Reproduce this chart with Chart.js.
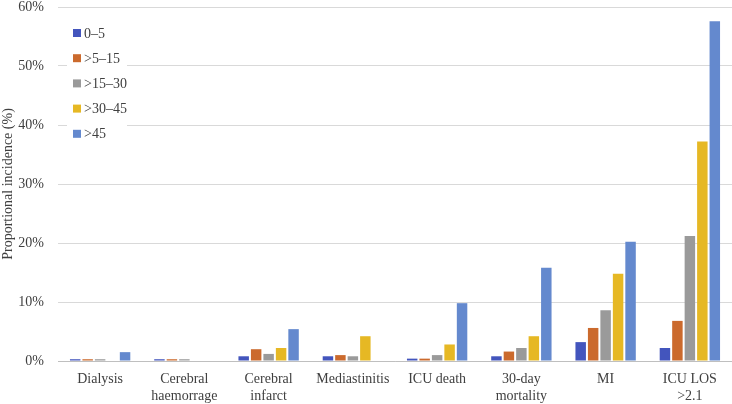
<!DOCTYPE html>
<html>
<head>
<meta charset="utf-8">
<script src="https://cdn.jsdelivr.net/npm/chart.js@4.4.0/dist/chart.umd.min.js"></script>
<style>
  body { margin: 0; background: #fff; }
  #wrap { width: 732px; height: 404px; position: relative; }
</style>
</head>
<body>
<div id="wrap"><canvas id="chart"></canvas></div>
<script>
// dados
var categories = ['Dialysis', ['Cerebral', 'haemorrage'], ['Cerebral', 'infarct'], 'Mediastinitis',
  'ICU death', ['30-day', 'mortality'], 'MI', ['ICU LOS', '>2.1']];
var seriesNames = ['0–5', '>5–15', '>15–30', '>30–45', '>45'];
var s0_5   = [0.3, 0.3, 0.8, 0.8, 0.4, 0.8, 3.2, 2.2];
var s5_15  = [0.3, 0.3, 2.0, 1.0, 0.4, 1.6, 5.6, 6.8];
var s15_30 = [0.3, 0.3, 1.2, 0.8, 1.0, 2.2, 8.6, 21.2];
var s30_45 = [0, 0, 2.2, 4.2, 2.8, 4.2, 14.8, 37.2];
var s45    = [1.5, 0, 5.4, 0, 9.8, 15.8, 20.2, 57.6];
var yTicks = [0, 10, 20, 30, 40, 50, 60];

var colors = ['#4355BD', '#CB6A2D', '#9A9A9A', '#E6B824', '#6489CE'];
var serif = '"Liberation Serif", "Times New Roman", serif';
var textColor = '#404040';

// legenda desenhada dentro da área do gráfico
var insideLegend = {
  id: 'insideLegend',
  beforeDatasetsDraw: function(chart) {
    var ctx = chart.ctx;
    ctx.save();
    ctx.fillStyle = '#fff';
    ctx.fillRect(67, 20, 60, 126);
    ctx.restore();
  },
  afterDraw: function(chart) {
    var ctx = chart.ctx;
    ctx.save();
    ctx.font = '14px ' + serif;
    ctx.textBaseline = 'middle';
    chart.data.datasets.forEach(function(ds, i) {
      var y = 33 + i * 25.2;
      ctx.fillStyle = ds.backgroundColor;
      ctx.fillRect(73, y - 4, 8, 8);
      ctx.fillStyle = textColor;
      ctx.fillText(ds.label, 84, y + 1);
    });
    ctx.restore();
  }
};

var allSeries = [s0_5, s5_15, s15_30, s30_45, s45];
var datasets = allSeries.map(function(d, i) {
  return {
    label: seriesNames[i],
    data: d,
    backgroundColor: colors[i],
    categoryPercentage: 0.74,
    barPercentage: 0.84
  };
});

new Chart(document.getElementById('chart'), {
  type: 'bar',
  data: { labels: categories, datasets: datasets },
  options: {
    responsive: true,
    maintainAspectRatio: false,
    animation: false,
    layout: { padding: { top: 7, right: 0, left: 0, bottom: 0 } },
    plugins: { legend: { display: false }, tooltip: { enabled: false } },
    scales: {
      x: {
        grid: { display: false },
        border: { color: '#BFBFBF', width: 1 },
        ticks: { color: textColor, font: { family: serif, size: 14, lineHeight: 1.2 }, maxRotation: 0, autoSkip: false, padding: 2 },
        afterFit: function(scale) { scale.height = 43; scale.paddingLeft = 0; scale.paddingRight = 0; }
      },
      y: {
        min: 0, max: 60,
        afterBuildTicks: function(scale) { scale.ticks = yTicks.map(function(v) { return { value: v }; }); },
        grid: { color: '#D9D9D9', drawTicks: false, lineWidth: 1 },
        border: { display: false },
        ticks: {
          color: textColor, font: { family: serif, size: 14 }, padding: 14,
          callback: function(v) { return v + '%'; }
        },
        title: { display: true, text: 'Proportional incidence (%)', color: textColor,
          font: { family: serif, size: 14 }, padding: 0 },
        afterFit: function(scale) { scale.width = 58; scale.paddingTop = 0; scale.paddingBottom = 0; }
      }
    }
  },
  plugins: [insideLegend]
});
</script>
</body>
</html>
